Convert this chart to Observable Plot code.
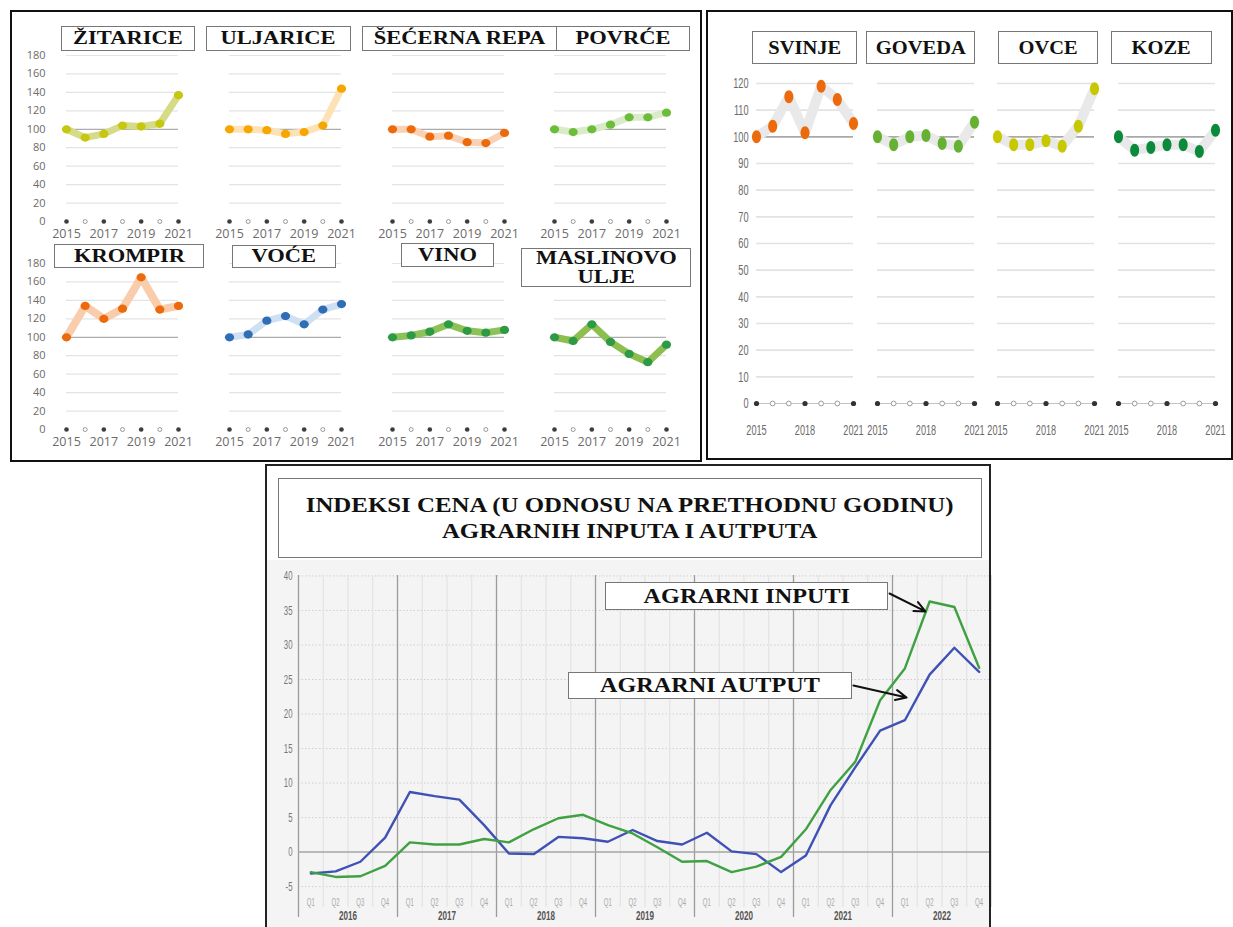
<!DOCTYPE html>
<html><head><meta charset="utf-8">
<script src="https://cdn.jsdelivr.net/npm/d3@7"></script>
<script src="https://cdn.jsdelivr.net/npm/@observablehq/plot@0.6"></script>
<style>
body{margin:0;background:#fff;}
#root{position:relative;width:1233px;height:927px;overflow:hidden;font-family:"Open Sans",sans-serif;}
.frame{position:absolute;box-sizing:border-box;background:transparent;}
.box{position:absolute;box-sizing:border-box;background:#fff;border:1px solid #777;display:flex;align-items:center;justify-content:center;font-family:"Liberation Serif","Times New Roman",serif;font-weight:bold;color:#111;text-align:center;white-space:nowrap;}
.box span{display:inline-block;}
</style></head><body><div id="root"></div><script>
// ---------------- data ----------------
const years = [2015, 2016, 2017, 2018, 2019, 2020, 2021];
const cropNames = ["ŽITARICE", "ULJARICE", "ŠEĆERNA REPA", "POVRĆE", "KROMPIR", "VOĆE", "VINO", "MASLINOVO\nULJE"];
const zitarice = [100, 91, 95, 104, 103, 106, 137];
const uljarice = [100, 100, 99, 95, 97, 104, 144];
const secernaRepa = [100, 100, 92, 93, 86, 85, 96];
const povrce = [100, 97, 100, 105, 113, 113, 118];
const krompir = [100, 134, 120, 131, 165, 130, 134];
const voce = [100, 103, 118, 123, 114, 130, 136];
const vino = [100, 102, 106, 114, 107, 105, 108];
const maslinovoUlje = [100, 96, 114, 95, 82, 73, 92];
const cropTicks = [0, 20, 40, 60, 80, 100, 120, 140, 160, 180];
const cropYearTicks = [2015, 2017, 2019, 2021];

const livestockNames = ["SVINJE", "GOVEDA", "OVCE", "KOZE"];
const svinje = [100, 104, 115, 101.5, 119, 114, 105];
const goveda = [100, 97, 100, 100.5, 97.5, 96.5, 105.5];
const ovce = [100, 97, 97, 98.5, 96.5, 104, 118];
const koze = [100, 95, 96, 97, 97, 94.5, 102.5];
const livestockTicks = [0, 10, 20, 30, 40, 50, 60, 70, 80, 90, 100, 110, 120];
const livestockYearTicks = [2015, 2018, 2021];

const quarterLabels = ["Q1", "Q2", "Q3", "Q4"];
const quarterYears = [2016, 2017, 2018, 2019, 2020, 2021, 2022];
const agrarniAutput = [-3.1, -2.8, -1.4, 2.1, 8.7, 8.1, 7.6, 3.9, -0.2, -0.3, 2.2, 2.0, 1.5, 3.2, 1.6, 1.1, 2.8, 0.1, -0.3, -2.9, -0.5, 6.8, 12.3, 17.6, 19.1, 25.7, 29.6, 26.1];
const agrarniInputi = [-2.9, -3.6, -3.5, -2.0, 1.4, 1.1, 1.1, 1.9, 1.4, 3.3, 4.9, 5.4, 3.9, 2.7, 0.7, -1.4, -1.3, -2.9, -2.1, -0.7, 3.3, 9.0, 13.1, 22.0, 26.6, 36.3, 35.5, 26.7];
const indexTicks = [-5, 0, 5, 10, 15, 20, 25, 30, 35, 40];
const chartTitle = "INDEKSI CENA (U ODNOSU NA PRETHODNU GODINU)\nAGRARNIH INPUTA I AUTPUTA";
const seriesLabels = ["AGRARNI INPUTI", "AGRARNI AUTPUT"];
// arrow anchors in data space (quarter index, index value)
const arrowX1 = [23.38, 21.92], arrowY1 = [37.46, 24.13], arrowX2 = [24.83, 24.07], arrowY2 = [34.86, 22.4];

// ---------------- helpers ----------------
const root = document.getElementById("root");
function place(el, l, t) { el.style.position = "absolute"; el.style.left = l + "px"; el.style.top = t + "px"; root.appendChild(el); return el; }
function ellipse(sx, sy) {
  const k = 0.5523;
  return {draw(ctx, size) {
    const r = Math.sqrt(size / Math.PI), a = r * sx, b = r * sy;
    ctx.moveTo(a, 0);
    ctx.bezierCurveTo(a, k * b, k * a, b, 0, b);
    ctx.bezierCurveTo(-k * a, b, -a, k * b, -a, 0);
    ctx.bezierCurveTo(-a, -k * b, -k * a, -b, 0, -b);
    ctx.bezierCurveTo(k * a, -b, a, -k * b, a, 0);
    ctx.closePath();
  }};
}
function narrow(svg, factor) {
  svg.querySelectorAll("text").forEach(t => {
    const w = t.getComputedTextLength();
    if (w > 0) { t.setAttribute("textLength", (w * factor).toFixed(2)); t.setAttribute("lengthAdjust", "spacingAndGlyphs"); }
  });
}
function addBox(text, l, t, w, h, fontSize, stretch, lineHeight) {
  const d = document.createElement("div");
  d.className = "box";
  d.style.width = w + "px"; d.style.height = h + "px";
  d.style.fontSize = fontSize + "px"; d.style.lineHeight = (lineHeight || fontSize * 1.1) + "px";
  const s = document.createElement("span");
  s.innerHTML = text.split("\n").join("<br>");
  s.style.transform = `scaleX(${stretch})`;
  d.appendChild(s);
  place(d, l, t);
}
function addFrame(l, t, w, h, bw, col) {
  const d = document.createElement("div");
  d.className = "frame";
  d.style.width = w + "px"; d.style.height = h + "px";
  d.style.border = `${bw}px solid ${col}`;
  place(d, l, t);
}

// ---------------- crops (top-left) ----------------
const cropSeries = [zitarice, uljarice, secernaRepa, povrce, krompir, voce, vino, maslinovoUlje];
const cropDotColor = ["#c5c80f", "#f7a600", "#ec6a0c", "#6cbd3a", "#ed6a0c", "#2f6db5", "#2f9a45", "#2f9a45"];
const cropLineColor = ["#d6db88", "#fde2b6", "#f9d1b4", "#d9ebc8", "#f9ccac", "#cfe0f4", "#8dc259", "#8cbf4f"];
const cropLineWidth = [7, 7, 7, 7, 8, 7, 7, 7];
const cropX2015 = [66, 229, 392, 554];
const cropYTop = [55, 263];

function cropPlot(values, dotColor, lineColor, lineWidth, showY) {
  const data = years.map((year, i) => ({year, value: values[i]}));
  return Plot.plot({
    width: 177, height: 200, marginLeft: 45, marginRight: 20, marginTop: 10, marginBottom: 24,
    x: {domain: [2015, 2021], axis: null},
    y: {domain: [0, 180], axis: null},
    style: {background: "transparent", overflow: "visible", fontFamily: "'Open Sans', sans-serif", color: "#6b6b6b"},
    marks: [
      Plot.ruleY(cropTicks.filter(v => v > 0 && v !== 100), {stroke: "#e4e4e4", strokeWidth: 1.2}),
      Plot.ruleY([100], {stroke: "#acacac", strokeWidth: 1.2}),
      showY ? Plot.axisY({ticks: cropTicks, label: null, tickSize: 0, tickPadding: 21, fontSize: 11, tickFormat: d => String(d)}) : null,
      Plot.axisX({ticks: cropYearTicks, label: null, tickSize: 0, tickPadding: 8, fontSize: 12.5, tickFormat: d => String(d)}),
      Plot.dot(years.filter((y, i) => i % 2 === 1), {x: d => d, y: 0, r: 2, fill: "white", stroke: "#999", strokeWidth: 1}),
      Plot.dot(years.filter((y, i) => i % 2 === 0), {x: d => d, y: 0, r: 2.3, fill: "#3d3d3d"}),
      Plot.line(data, {x: "year", y: "value", stroke: lineColor, strokeWidth: lineWidth, strokeLinejoin: "round", strokeLinecap: "round"}),
      Plot.dot(data, {x: "year", y: "value", r: 4.6, symbol: ellipse(1.0, 0.9), fill: dotColor})
    ]
  });
}
cropSeries.forEach((vals, k) => {
  const col = k % 4, row = Math.floor(k / 4);
  const svg = cropPlot(vals, cropDotColor[k], cropLineColor[k], cropLineWidth[k], col === 0);
  place(svg, cropX2015[col] - 45, cropYTop[row] - 10);
});

// ---------------- livestock (top-right) ----------------
const livestockSeries = [svinje, goveda, ovce, koze];
const livestockColor = ["#ec6a0c", "#66b032", "#c8c800", "#0b8a3b"];
const livX2015 = [756, 877, 997, 1118];
function livestockPlot(values, color, showY) {
  const data = years.map((year, i) => ({year, value: values[i]}));
  return Plot.plot({
    width: 153, height: 368, marginLeft: 40, marginRight: 16, marginTop: 12, marginBottom: 36,
    x: {domain: [2015, 2021], axis: null},
    y: {domain: [0, 120], axis: null},
    style: {background: "transparent", overflow: "visible", fontFamily: "'Liberation Sans', sans-serif", color: "#6a6a6a"},
    marks: [
      Plot.ruleY(livestockTicks.filter(v => v > 0 && v !== 100), {stroke: "#e2e2e2", strokeWidth: 1.6}),
      Plot.ruleY([100], {stroke: "#a9a9a9", strokeWidth: 1.6}),
      Plot.ruleY([0], {stroke: "#c4c4c4", strokeWidth: 1}),
      showY ? Plot.axisY({ticks: livestockTicks, label: null, tickSize: 0, tickPadding: 8, fontSize: 15, tickFormat: d => String(d)}) : null,
      Plot.axisX({ticks: livestockYearTicks, label: null, tickSize: 0, tickPadding: 21, fontSize: 15, tickFormat: d => String(d)}),
      Plot.dot(years.filter((y, i) => i % 3 !== 0), {x: d => d, y: 0, r: 2.4, fill: "white", stroke: "#9a9a9a", strokeWidth: 1}),
      Plot.dot(years.filter((y, i) => i % 3 === 0), {x: d => d, y: 0, r: 2.6, fill: "#333"}),
      Plot.line(data, {x: "year", y: "value", stroke: "#e9e9e9", strokeWidth: 10, strokeLinejoin: "round"}),
      Plot.dot(data, {x: "year", y: "value", r: 5.5, symbol: ellipse(0.82, 1.18), fill: color})
    ]
  });
}
livestockSeries.forEach((vals, k) => {
  const svg = livestockPlot(vals, livestockColor[k], k === 0);
  place(svg, livX2015[k] - 40, 71);
  narrow(svg, 0.61);
});

// ---------------- bottom chart ----------------
const qIdx = d3.range(quarterYears.length * 4);
const autputData = qIdx.map(i => ({i, v: agrarniAutput[i]}));
const inputiData = qIdx.map(i => ({i, v: agrarniInputi[i]}));
const yearBounds = quarterYears.map((y, k) => k * 4 - 0.5);
const quarterBounds = qIdx.map(i => i + 0.5).filter(b => (b + 0.5) % 4 !== 0).concat([qIdx.length - 0.5]);
const arrows = seriesLabels.map((label, k) => ({label, x1: arrowX1[k], y1: arrowY1[k], x2: arrowX2[k], y2: arrowY2[k]}));

const bottom = Plot.plot({
  width: 725, height: 367, marginLeft: 32, marginRight: 0, marginTop: 12, marginBottom: 34,
  x: {domain: [-0.5, qIdx.length - 0.5], axis: null},
  y: {domain: [-6, 40.5], axis: null},
  style: {background: "#f4f4f4", overflow: "visible", fontFamily: "'Liberation Sans', sans-serif", color: "#777"},
  marks: [
    Plot.ruleY(indexTicks.filter(v => v !== 0), {stroke: "#cfcfcf", strokeWidth: 1, strokeDasharray: "1.5,2"}),
    Plot.ruleX(quarterBounds, {stroke: "#e0e0e0", strokeWidth: 1, insetTop: 3, insetBottom: -14}),
    Plot.ruleX(yearBounds, {stroke: "#9c9c9c", strokeWidth: 1.3, insetTop: 3, insetBottom: -24}),
    Plot.ruleY([0], {stroke: "#a6a6a6", strokeWidth: 1.5}),
    Plot.axisY({ticks: indexTicks, label: null, tickSize: 0, tickPadding: 6, fontSize: 13, tickFormat: d => String(d)}),
    Plot.axisX({ticks: qIdx, label: null, tickSize: 0, tickPadding: 5, fontSize: 10, fill: "#aaa", tickFormat: i => quarterLabels[i % 4]}),
    Plot.text(quarterYears, {x: (d, k) => k * 4 + 1.5, frameAnchor: "bottom", dy: 26, text: d => String(d), fontSize: 13.5, fontWeight: "bold", fill: "#555"}),
    Plot.line(autputData, {x: "i", y: "v", stroke: "#3f51b5", strokeWidth: 2.4, strokeLinejoin: "round"}),
    Plot.line(inputiData, {x: "i", y: "v", stroke: "#3fa142", strokeWidth: 2.4, strokeLinejoin: "round"}),
    Plot.arrow(arrows, {x1: "x1", y1: "y1", x2: "x2", y2: "y2", stroke: "#111", strokeWidth: 2, headLength: 9, headAngle: 50})
  ]
});
place(bottom, 266, 560);
narrow(bottom, 0.6);

// ---------------- title boxes ----------------
const cropBoxes = [[61, 26, 134, 25], [206, 26, 145, 25], [362, 26, 195, 25], [556, 26, 134, 25],
                   [54, 244, 150, 24], [232, 245, 104, 23], [401, 243, 93, 24], [521, 248, 170, 39]];
cropNames.forEach((n, k) => { const b = cropBoxes[k]; addBox(n, b[0], b[1], b[2], b[3], 18, 1.25, 19); });
const livBoxes = [[752, 31, 105, 33], [866, 31, 109, 33], [998, 31, 100, 33], [1111, 31, 101, 33]];
livestockNames.forEach((n, k) => { const b = livBoxes[k]; addBox(n, b[0], b[1], b[2], b[3], 19.5, 1.05); });
addBox(chartTitle, 278, 478, 704, 80, 22, 1.13, 26);
addBox(seriesLabels[0], 605, 582, 283, 28, 22, 1.1);
addBox(seriesLabels[1], 568, 672, 284, 27, 22, 1.1);

// ---------------- frames ----------------
addFrame(10, 10, 692, 452, 2, "#111");
addFrame(706, 10, 527, 450, 2, "#111");
addFrame(265, 464, 726, 480, 2, "#222");
</script></body></html>
